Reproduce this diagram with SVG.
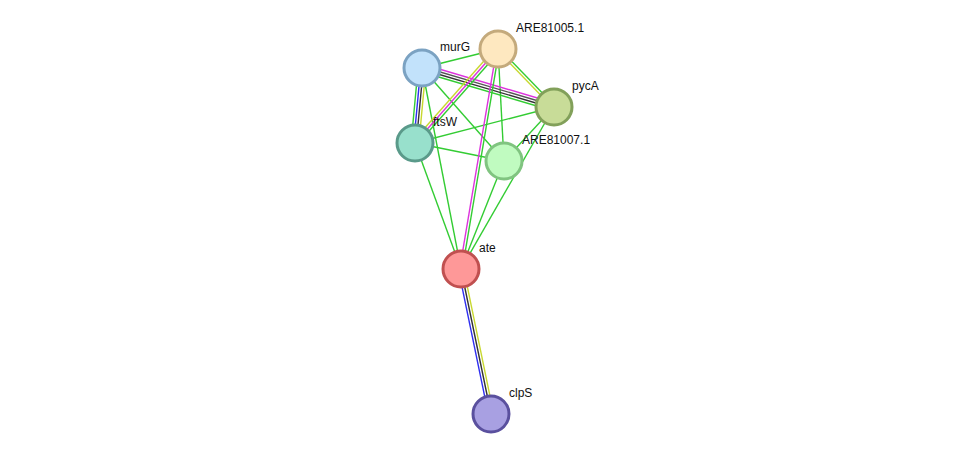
<svg xmlns="http://www.w3.org/2000/svg" width="976" height="460" viewBox="0 0 976 460">
<style>
.e{stroke-width:1.4;fill:none}
.g{stroke:#33cc33}.y{stroke:#c8d830}.m{stroke:#dd33dd}.b{stroke:#2e2ef0}.k{stroke:#333333}.k2{stroke:#555555}
.n circle{stroke-width:3}
.n text{font-family:"Liberation Sans",Arial,sans-serif;font-size:12px;fill:#111}
</style>
<rect width="976" height="460" fill="#ffffff"/>
<g id="edges">
<line class="e g" x1="422" y1="68" x2="498" y2="49"/>
<line class="e g" x1="422" y1="68" x2="504" y2="161"/>
<line class="e g" x1="422" y1="68" x2="461" y2="269"/>
<line class="e g" x1="498" y1="49" x2="504" y2="161"/>
<line class="e g" x1="415" y1="143" x2="554" y2="107"/>
<line class="e g" x1="415" y1="143" x2="504" y2="161"/>
<line class="e g" x1="415" y1="143" x2="461" y2="269"/>
<line class="e g" x1="554" y1="107" x2="504" y2="161"/>
<line class="e g" x1="554" y1="107" x2="461" y2="269"/>
<line class="e g" x1="504" y1="161" x2="461" y2="269"/>
<line class="e m" x1="423.10" y1="64.26" x2="555.10" y2="103.26"/>
<line class="e k2" x1="422.37" y1="66.75" x2="554.37" y2="105.75"/>
<line class="e k" x1="421.63" y1="69.25" x2="553.63" y2="108.25"/>
<line class="e g" x1="420.90" y1="71.74" x2="552.90" y2="110.74"/>
<line class="e g" x1="418.12" y1="67.64" x2="411.12" y2="142.64"/>
<line class="e b" x1="420.71" y1="67.88" x2="413.71" y2="142.88"/>
<line class="e k" x1="423.29" y1="68.12" x2="416.29" y2="143.12"/>
<line class="e y" x1="425.88" y1="68.36" x2="418.88" y2="143.36"/>
<line class="e y" x1="496.05" y1="47.28" x2="413.05" y2="141.28"/>
<line class="e m" x1="498" y1="49" x2="415" y2="143"/>
<line class="e g" x1="499.95" y1="50.72" x2="416.95" y2="144.72"/>
<line class="e m" x1="496.72" y1="48.78" x2="459.72" y2="268.78"/>
<line class="e g" x1="499.28" y1="49.22" x2="462.28" y2="269.22"/>
<line class="e y" x1="497.06" y1="49.90" x2="553.06" y2="107.90"/>
<line class="e g" x1="498.94" y1="48.10" x2="554.94" y2="106.10"/>
<line class="e b" x1="458.45" y1="269.53" x2="488.45" y2="414.53"/>
<line class="e k" x1="461" y1="269" x2="491" y2="414"/>
<line class="e y" x1="463.55" y1="268.47" x2="493.55" y2="413.47"/>
</g>
<g id="murG" class="n"><circle cx="422" cy="68" r="18" fill="#c2e2fb" stroke="#7ba2c2"/><text x="440" y="51">murG</text></g>
<g id="ARE81005.1" class="n"><circle cx="498" cy="49" r="18" fill="#fee8c0" stroke="#c4aa7c"/><text x="516" y="32">ARE81005.1</text></g>
<g id="pycA" class="n"><circle cx="554" cy="107" r="18" fill="#c8dc98" stroke="#82a05a"/><text x="572" y="90">pycA</text></g>
<g id="ftsW" class="n"><circle cx="415" cy="143" r="18" fill="#98e0cc" stroke="#5a9a8a"/><text x="433" y="126">ftsW</text></g>
<g id="ARE81007.1" class="n"><circle cx="504" cy="161" r="18" fill="#c0fbc0" stroke="#80c480"/><text x="522" y="144">ARE81007.1</text></g>
<g id="ate" class="n"><circle cx="461" cy="269" r="18" fill="#fe9898" stroke="#c05050"/><text x="479" y="252">ate</text></g>
<g id="clpS" class="n"><circle cx="491" cy="414" r="18" fill="#a8a0e2" stroke="#5a509e"/><text x="509" y="397">clpS</text></g>
</svg>
